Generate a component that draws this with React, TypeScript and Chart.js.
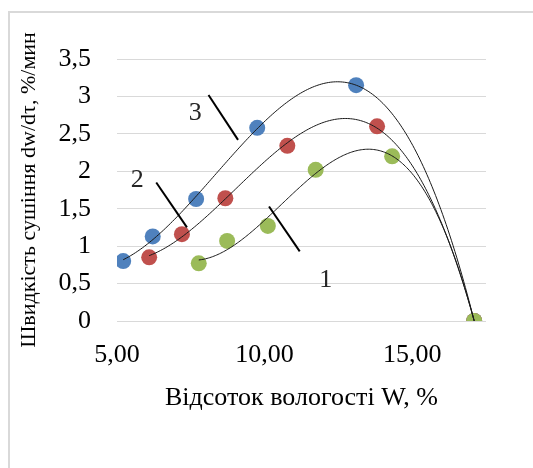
import React, { useEffect, useRef } from "react";
import { Chart, registerables } from "chart.js";

Chart.register(...registerables);

// ---- data ----
const seriesNames = ["1", "2", "3"];
const moisture1 = [7.77, 8.73, 10.11, 11.73, 14.32, 17.1];
const rate1 = [0.77, 1.07, 1.27, 2.02, 2.2, 0];
const moisture2 = [6.09, 7.2, 8.67, 10.77, 13.81, 17.1];
const rate2 = [0.85, 1.16, 1.64, 2.34, 2.6, 0];
const moisture3 = [5.21, 6.21, 7.68, 9.75, 13.1, 17.1];
const rate3 = [0.8, 1.13, 1.63, 2.58, 3.15, 0];
const seriesColors = ["#9BBB59", "#C0504D", "#4F81BD"];

const xTickValues = [5, 10, 15];
const xTickLabels = ["5,00", "10,00", "15,00"];
const yTickValues = [0, 0.5, 1, 1.5, 2, 2.5, 3, 3.5];
const yTickLabels = ["0", "0,5", "1", "1,5", "2", "2,5", "3", "3,5"];

const xTitle = "Відсоток вологості W, %";
const yTitle = "Швидкість сушіння dw/dτ, %/мин";

// curve labels and their leader lines, in data units
const labelX = [12.07, 5.69, 7.65];
const labelY = [0.55, 1.885, 2.78];
const leaderX1 = [10.15, 6.33, 8.1];
const leaderY1 = [1.53, 1.85, 3.02];
const leaderX2 = [11.19, 7.37, 9.1];
const leaderY2 = [0.93, 1.25, 2.42];

const SERIF = '"Liberation Serif", "Times New Roman", serif';

function polyFit(xs: number[], ys: number[], deg: number): number[] {
  const n = deg + 1;
  const A: number[][] = [];
  for (let r = 0; r < n; r++) {
    const row: number[] = [];
    for (let c = 0; c < n; c++) {
      let s = 0;
      for (let i = 0; i < xs.length; i++) s += Math.pow(xs[i], r + c);
      row.push(s);
    }
    let t = 0;
    for (let i = 0; i < xs.length; i++) t += ys[i] * Math.pow(xs[i], r);
    row.push(t);
    A.push(row);
  }
  for (let col = 0; col < n; col++) {
    let piv = col;
    for (let r = col + 1; r < n; r++) if (Math.abs(A[r][col]) > Math.abs(A[piv][col])) piv = r;
    const tmp = A[col]; A[col] = A[piv]; A[piv] = tmp;
    for (let r = 0; r < n; r++) {
      if (r === col) continue;
      const f = A[r][col] / A[col][col];
      for (let c = col; c <= n; c++) A[r][c] -= f * A[col][c];
    }
  }
  return A.map((row, i) => row[n] / row[i]);
}

function polyEval(c: number[], x: number): number {
  let y = 0;
  for (let i = c.length - 1; i >= 0; i--) y = y * x + c[i];
  return y;
}

const frame = {
  id: "frame",
  beforeDraw(chart: any) {
    const ctx = chart.ctx;
    ctx.save();
    ctx.fillStyle = "#ffffff";
    ctx.fillRect(0, 0, chart.width, chart.height);
    ctx.strokeStyle = "#d9d9d9";
    ctx.lineWidth = 2;
    ctx.strokeRect(9, 12, chart.width + 20, chart.height + 20);
    ctx.restore();
  },
};

const trend = {
  id: "trend",
  afterDatasetsDraw(chart: any) {
    const ctx = chart.ctx;
    const sx = chart.scales.x;
    const sy = chart.scales.y;
    const xsAll = [moisture1, moisture2, moisture3];
    const ysAll = [rate1, rate2, rate3];
    ctx.save();
    ctx.strokeStyle = "#1a1a1a";
    ctx.lineWidth = 1;
    for (let s = 0; s < 3; s++) {
      const xs = xsAll[s];
      const c = polyFit(xs, ysAll[s], 3);
      const lo = Math.min(...xs);
      const hi = Math.max(...xs);
      ctx.beginPath();
      const N = 200;
      for (let k = 0; k <= N; k++) {
        const x = lo + ((hi - lo) * k) / N;
        const px = sx.getPixelForValue(x);
        const py = sy.getPixelForValue(polyEval(c, x));
        if (k === 0) ctx.moveTo(px, py);
        else ctx.lineTo(px, py);
      }
      ctx.stroke();
    }
    ctx.strokeStyle = "#000";
    ctx.lineWidth = 2;
    for (let i = 0; i < 3; i++) {
      ctx.beginPath();
      ctx.moveTo(sx.getPixelForValue(leaderX1[i]), sy.getPixelForValue(leaderY1[i]));
      ctx.lineTo(sx.getPixelForValue(leaderX2[i]), sy.getPixelForValue(leaderY2[i]));
      ctx.stroke();
    }
    ctx.fillStyle = "#262626";
    ctx.font = "26px " + SERIF;
    ctx.textAlign = "center";
    ctx.textBaseline = "middle";
    for (let i = 0; i < 3; i++) {
      ctx.fillText(seriesNames[i], sx.getPixelForValue(labelX[i]), sy.getPixelForValue(labelY[i]));
    }
    ctx.restore();
  },
};

export default function App() {
  const ref = useRef<HTMLCanvasElement | null>(null);
  useEffect(() => {
    if (!ref.current) return;
    const xsAll = [moisture1, moisture2, moisture3];
    const ysAll = [rate1, rate2, rate3];
    const datasets = [0, 1, 2].map((s) => ({
      label: seriesNames[s],
      data: xsAll[s].map((x, i) => ({ x, y: ysAll[s][i] })),
      backgroundColor: seriesColors[s],
      borderColor: seriesColors[s],
      borderWidth: 0,
      pointRadius: 8,
      pointHoverRadius: 8,
      order: s + 1,
    }));
    const chart = new Chart(ref.current, {
      type: "scatter",
      data: { datasets },
      plugins: [frame, trend],
      options: {
        animation: false,
        responsive: false,
        events: [],
        layout: { padding: { top: 59, right: 47, left: 0, bottom: 0 } },
        plugins: { legend: { display: false }, tooltip: { enabled: false } },
        scales: {
          x: {
            type: "linear",
            min: 5,
            max: 17.5,
            afterBuildTicks: (scale: any) => {
              scale.ticks = xTickValues.map((v) => ({ value: v }));
            },
            afterFit: (scale: any) => {
              scale.height = 147;
            },
            grid: { display: false, drawTicks: false },
            border: { display: false },
            ticks: {
              autoSkip: false,
              maxRotation: 0,
              padding: 19,
              color: "#000",
              font: { family: SERIF, size: 26 },
              callback: (v: any) => xTickLabels[xTickValues.indexOf(Number(v))],
            },
            title: {
              display: true,
              text: xTitle,
              color: "#000",
              font: { family: SERIF, size: 26 },
              padding: { top: 0, bottom: 54 },
            },
          },
          y: {
            type: "linear",
            min: 0,
            max: 3.5,
            afterBuildTicks: (scale: any) => {
              scale.ticks = yTickValues.map((v) => ({ value: v }));
            },
            afterFit: (scale: any) => {
              scale.width = 117;
            },
            grid: { color: "#d9d9d9", lineWidth: 1, drawTicks: false },
            border: { display: false },
            ticks: {
              padding: 26,
              color: "#000",
              font: { family: SERIF, size: 26 },
              callback: (v: any) => yTickLabels[yTickValues.indexOf(Number(v))],
            },
            title: {
              display: true,
              text: yTitle,
              color: "#000",
              font: { family: SERIF, size: 22 },
              padding: { top: 16, bottom: 0 },
            },
          },
        },
      },
    } as any);
    return () => chart.destroy();
  }, []);
  return (
    <div style={{ position: "absolute", left: 0, top: 0, width: 533, height: 468, background: "#fff" }}>
      <canvas ref={ref} width={533} height={468} style={{ display: "block" }} />
    </div>
  );
}
